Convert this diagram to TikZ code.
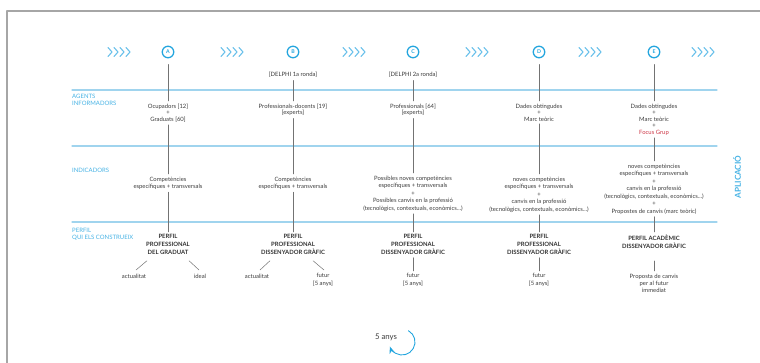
\documentclass[tikz,border=0pt]{standalone}
\usepackage{fontspec}
\setmainfont{Lato}
\usetikzlibrary{positioning,arrows.meta}
\definecolor{stageblue}{RGB}{35,165,222}
\definecolor{bandblue}{RGB}{160,212,238}
\definecolor{chevblue}{RGB}{105,192,234}
\definecolor{labblue}{RGB}{70,178,228}
\definecolor{focusred}{RGB}{205,55,70}
\definecolor{inkgray}{RGB}{60,60,60}

\begin{document}
\begin{tikzpicture}[x=1pt, y=-1pt, line cap=round, line join=round, >=Stealth]
  % styles
  \tikzset{
    frame/.style={black!35, line width=1.4pt},
    band/.style={bandblue, line width=1.1pt},
    chev/.style={chevblue, line width=1.1pt},
    link/.style={black!55, line width=0.5pt},
    stage/.style={circle, draw=stageblue, line width=1.3pt, minimum size=11.5pt,
      inner sep=0pt, text=stageblue, font=\fontsize{5.2}{5}\selectfont\bfseries},
    rowlab/.style={anchor=north west, align=left, inner sep=1pt, text=labblue,
      font=\fontsize{6}{7}\selectfont},
    txt/.style={align=center, inner sep=2.5pt, text=inkgray},
    agent/.style={txt, anchor=north, font=\fontsize{5.9}{6.5}\selectfont},
    indic/.style={txt, anchor=north, font=\fontsize{5.9}{7.5}\selectfont},
    ptitle/.style={txt, anchor=north, text=black!80,
      font=\fontsize{5.9}{8}\selectfont\bfseries},
    branch/.style={txt, anchor=north, font=\fontsize{5.9}{7.3}\selectfont},
    delphi/.style={txt, font=\fontsize{5.9}{6.5}\selectfont}
  }

  \useasboundingbox (0,0) rectangle (760,363);

  % ----- frame and bands -----
  \draw[frame] (760,11) -- (7,11) -- (7,363);
  \foreach \y in {90,146,222} \draw[band] (72,\y) -- (717,\y);

  % ----- row labels -----
  \node[rowlab] (lab-ag)  at (71,93)    {AGENTS\\INFORMADORS};
  \node[rowlab] (lab-ind) at (71,166.5) {INDICADORS};
  \node[rowlab] (lab-per) at (71,227.5) {PERFIL\\QUI ELS CONSTRUEIX};
  \node[rotate=90, text=labblue, font=\fontsize{8.2}{8}\selectfont\bfseries]
    (apl) at (737,177) {APLICACIÓ};

  % ----- chevrons and stages -----
  \foreach \cx in {108,221,343,466,579,692}
    \foreach \i in {0,...,3}
      \draw[chev] (\cx+6*\i,47.5) -- ++(4,4.5) -- ++(-4,4.5);
  \foreach \s/\x in {A/168,B/293,C/413,D/539,E/654}
    \node[stage] (\s) at (\x,52) {\s};

  \node[delphi] (B-del) at (293,75) {[DELPHI 1a ronda]};
  \node[delphi] (C-del) at (413,75) {[DELPHI 2a ronda]};

  % ----- agents informadors -----
  \node[agent] (A-ag) at (168,101) {Ocupadors [12]\\+\\Graduats [60]};
  \node[agent] (B-ag) at (293,101) {Professionals-docents [19]\\{}[experts]};
  \node[agent] (C-ag) at (413,101) {Professionals [64]\\{}[experts]};
  \node[agent] (D-ag) at (539,101) {Dades obtingudes\\+\\Marc teòric};
  \node[agent] (E-ag) at (654,101) {Dades obtingudes\\+\\Marc teòric\\+\\
    \textcolor{focusred}{Focus Grup}};

  % ----- indicadors -----
  \node[indic] (A-ind) at (168,174) {Competències\\específiques + transversals};
  \node[indic] (B-ind) at (293,174) {Competències\\específiques + transversals};
  \node[indic] (C-ind) at (413,173) {Possibles noves competències\\
    específiques + transversals\\+\\Possibles canvis en la professió\\
    (tecnològics, contextuals, econòmics...)};
  \node[indic] (D-ind) at (539,174) {noves competències\\
    específiques + transversals\\+\\canvis en la professió\\
    (tecnològics, contextuals, econòmics...)};
  \node[indic] (E-ind) at (654,161) {noves competències\\
    específiques + transversals\\+\\canvis en la professió\\
    (tecnològics, contextuals, econòmics...)\\+\\
    Propostes de canvis (marc teòric)};

  % ----- perfils -----
  \node[ptitle] (A-per) at (168,232) {PERFIL\\PROFESSIONAL\\DEL GRADUAT};
  \node[ptitle] (B-per) at (293,232) {PERFIL\\PROFESSIONAL\\DISSENYADOR GRÀFIC};
  \node[ptitle] (C-per) at (413,232) {PERFIL\\PROFESSIONAL\\DISSENYADOR GRÀFIC};
  \node[ptitle] (D-per) at (539,232) {PERFIL\\PROFESSIONAL\\DISSENYADOR GRÀFIC};
  \node[ptitle] (E-per) at (654,232) {PERFIL ACADÈMIC\\DISSENYADOR GRÀFIC};

  \node[branch] (A-now) at (134,271) {actualitat};
  \node[branch] (A-ideal) at (200,271) {ideal};
  \node[branch] (B-now) at (257,271) {actualitat};
  \node[branch] (B-fut) at (323,271) {futur\\{}[5 anys]};
  \node[branch] (C-fut) at (413,271) {futur\\{}[5 anys]};
  \node[branch] (D-fut) at (539,271) {futur\\{}[5 anys]};
  \node[branch] (E-fut) at (654,271) {Proposta de canvis\\per al futur\\immediat};

  % ----- vertical links -----
  \foreach \s in {A,D,E} \draw[link, shorten <=6pt] (\s) -- (\s-ag);
  \foreach \s in {B,C} \draw[link] (\s-del) -- (\s-ag);
  \foreach \s in {A,B,C,D,E} {
    \draw[link] (\s-ag) -- (\s-ind);
    \draw[link] (\s-ind) -- (\s-per);
  }
  \foreach \s in {C,D} \draw[link] (\s-per) -- (\s-fut);
  \draw[link, shorten <=10pt] (E-per) -- (E-fut);

  % branches
  \draw[link] ([shift={(-21,3)}]A-per.south) -- ([shift={(2,-1)}]A-now.north);
  \draw[link] ([shift={(21,3)}]A-per.south) -- ([shift={(-1,-1)}]A-ideal.north);
  \draw[link] ([shift={(-23,3)}]B-per.south) -- ([shift={(3,-1)}]B-now.north);
  \draw[link] ([shift={(20,3)}]B-per.south) -- ([shift={(1,-1)}]B-fut.north);

  % ----- cycle -----
  \node[txt, font=\fontsize{7.8}{8}\selectfont] (cyc) at (386,337) {5 anys};
  \coordinate (cyc-c) at (402,342);
  \draw[stageblue, line width=0.9pt, ->] ([shift={(-60:13)}]cyc-c)
    arc[start angle=-60, end angle=160, radius=13];
\end{tikzpicture}
\end{document}
